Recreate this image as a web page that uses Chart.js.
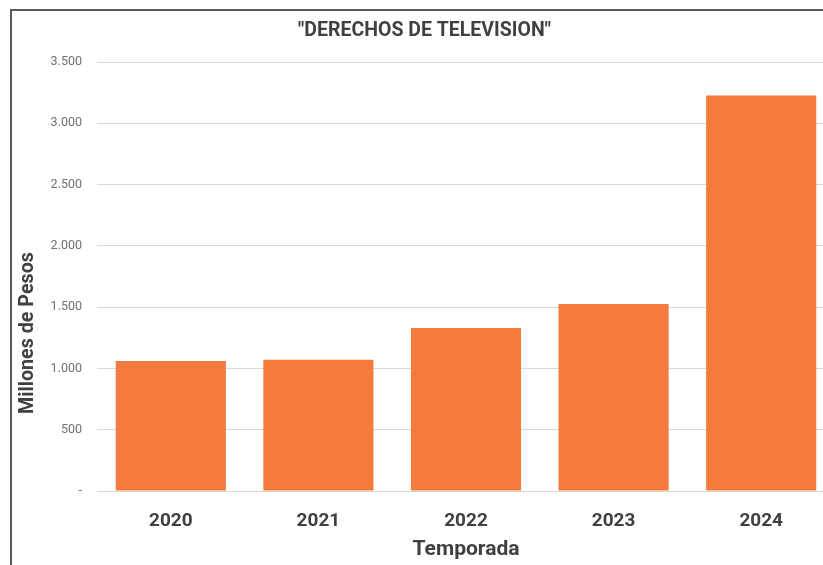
<!DOCTYPE html>
<html>
<head>
<meta charset="utf-8">
<script src="https://cdn.jsdelivr.net/npm/chart.js@4.4.1/dist/chart.umd.min.js"></script>
<style>
  html, body { margin: 0; padding: 0; background: #fff; overflow: hidden; width: 823px; height: 565px; }
  .frame { position: absolute; left: 10px; top: 9px; width: 900px; height: 600px;
           border-left: 2px solid #5a5a5a; border-top: 2px solid #5a5a5a; }
  .wrap { position: absolute; left: 0; top: 0; width: 849px; height: 565px; }
</style>
</head>
<body>
<div class="frame"></div>
<div class="wrap"><canvas id="chart"></canvas></div>
<script>
// datos
const temporadas = ['2020', '2021', '2022', '2023', '2024'];
const derechosTV = [1060, 1070, 1329, 1525, 3227];
const yTicks = [0, 500, 1000, 1500, 2000, 2500, 3000, 3500];

// formato contable: 0 -> "-", miles con punto
function fmt(v) {
  if (v === 0) return '-';
  return String(v).replace(/\B(?=(\d{3})+(?!\d))/g, '.');
}

// titulo del eje Y dibujado a mano (no esta centrado en el area)
const yTitlePlugin = {
  id: 'yTitle',
  afterDraw(chart) {
    const ctx = chart.ctx;
    ctx.save();
    ctx.translate(28, 333);
    ctx.rotate(-Math.PI / 2);
    ctx.font = 'bold 19.7px Roboto';
    ctx.fillStyle = '#404040';
    ctx.textAlign = 'center';
    ctx.textBaseline = 'middle';
    ctx.fillText('Millones de Pesos', 0, 0);
    ctx.restore();
  }
};

new Chart(document.getElementById('chart'), {
  type: 'bar',
  data: {
    labels: temporadas,
    datasets: [{
      label: 'Derechos de television',
      data: derechosTV,
      backgroundColor: '#F47A3E',
      borderWidth: 0,
      categoryPercentage: 1,
      barPercentage: 0.746
    }]
  },
  options: {
    responsive: true,
    maintainAspectRatio: false,
    animation: false,
    layout: { padding: { left: 14, right: 14, top: 0, bottom: 0 } },
    plugins: {
      legend: { display: false },
      tooltip: { enabled: false },
      title: {
        display: true,
        text: '"DERECHOS DE TELEVISION"',
        color: '#404040',
        font: { family: 'Roboto', size: 19.5, weight: 'bold' },
        padding: { top: 19, bottom: 19.6 }
      }
    },
    scales: {
      x: {
        grid: { display: false },
        border: { display: false },
        ticks: {
          color: '#404040',
          padding: 11,
          font: { family: 'Roboto', size: 19, weight: 'bold' }
        },
        title: {
          display: true,
          text: 'Temporada',
          color: '#404040',
          font: { family: 'Roboto', size: 21, weight: 'bold' },
          padding: { top: 0, bottom: 3 }
        },
        afterFit(scale) { scale.height = 74; }
      },
      y: {
        min: 0,
        max: 3500,
        afterBuildTicks(scale) { scale.ticks = yTicks.map(v => ({ value: v })); },
        grid: { color: '#d9d9d9', lineWidth: 1, drawTicks: false },
        border: { display: false },
        ticks: {
          color: '#707070',
          padding: 15,
          font: { family: 'Roboto', size: 12.5 },
          callback: v => fmt(v)
        },
        afterFit(scale) { scale.width = 83; }
      }
    }
  },
  plugins: [yTitlePlugin]
});
</script>
</body>
</html>
